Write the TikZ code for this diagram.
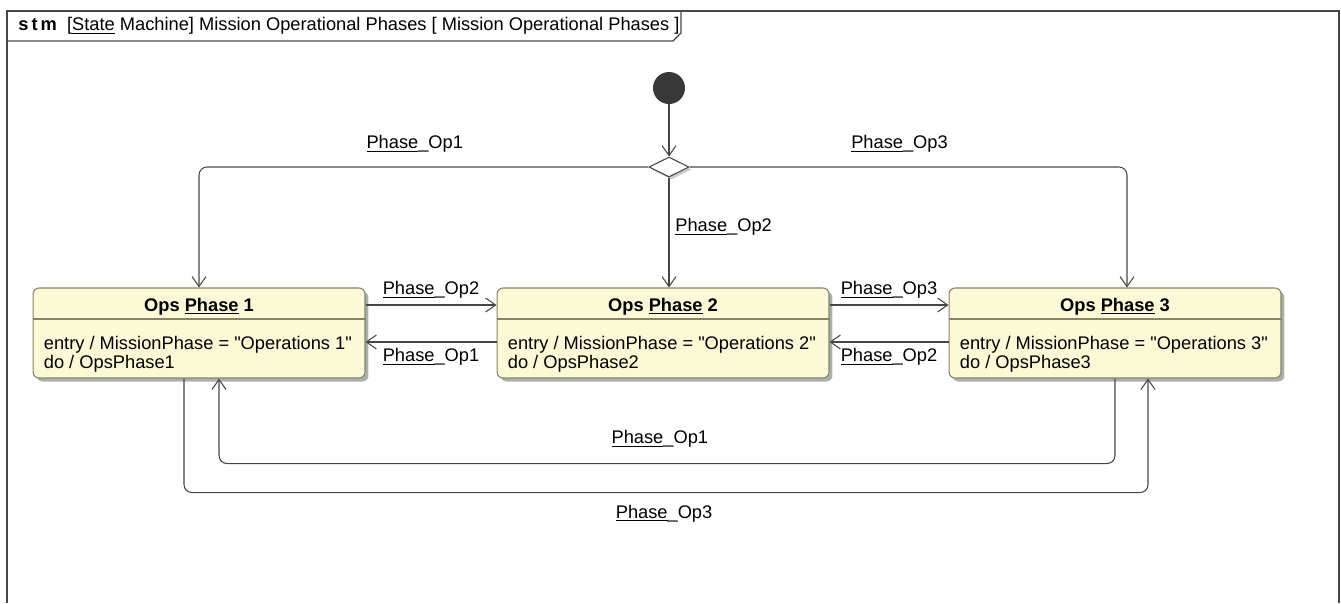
\documentclass[tikz,border=0pt]{standalone}
\usepackage{fontspec}
\setmainfont{Liberation Sans}
\usetikzlibrary{positioning,arrows.meta,shadows,shapes.geometric}

\definecolor{stateyellow}{RGB}{252,250,214}
\definecolor{stateedge}{RGB}{132,132,108}
\definecolor{linegray}{RGB}{70,70,70}

\newcommand{\phaseop}[1]{\underline{Phase}\_Op#1}
\newcommand{\opsentry}[1]{entry / MissionPhase = \textquotedbl Operations #1\textquotedbl}

\tikzset{
  frameline/.style={draw=linegray, line width=0.7pt},
  opsstate/.style={draw=stateedge, fill=stateyellow, line width=0.6pt,
    rounded corners=0.12cm, minimum width=6.64cm, minimum height=1.8cm,
    drop shadow={shadow xshift=0.07cm, shadow yshift=-0.07cm,
      fill=black!45, opacity=0.7}},
  statehead/.style={inner sep=0pt, font=\fontsize{10.4pt}{10.8pt}\selectfont\bfseries},
  statebody/.style={inner sep=0pt, align=left},
  initial/.style={circle, fill=black!78, minimum size=0.64cm, inner sep=0pt},
  choice/.style={diamond, draw=linegray, fill=white, line width=0.6pt,
    minimum width=0.8cm, minimum height=0.4cm, inner sep=0pt,
    drop shadow={shadow xshift=0.05cm, shadow yshift=-0.05cm, fill=black!40}},
  trans/.style={draw=linegray, line width=0.6pt, rounded corners=0.16cm,
    -{Straight Barb[length=0.2cm, width=0.28cm]}},
}

\begin{document}
\begin{tikzpicture}[x=0.02cm, y=-0.02cm, font=\fontsize{10.4pt}{10.8pt}\selectfont]
  \useasboundingbox (0,0) rectangle (1341,603);

  % diagram frame and its name tab
  \draw[frameline] (7,603) -- (7,11) -- (1339,11) -- (1339,603);
  \draw[frameline] (7,41) -- (673,41) -- (681,33) -- (681,11);
  \node[anchor=west, inner sep=0pt] (title) at (18,26)
    {\textbf{s\,t\,m}\ \ [\underline{State} Machine] Mission Operational Phases [ Mission Operational Phases ]};

  % pseudo states
  \node[initial] (init) at (669,88) {};
  \node[choice] (choice) at (669,167) {};

  % the three operational phases
  \node[opsstate] (s1) at (199,333) {};
  \node[opsstate] (s2) at (663,333) {};
  \node[opsstate] (s3) at (1115,333) {};

  \draw[stateedge, line width=0.6pt] ([yshift=0.28cm]s1.west) -- ([yshift=0.28cm]s1.east);
  \draw[stateedge, line width=0.6pt] ([yshift=0.28cm]s2.west) -- ([yshift=0.28cm]s2.east);
  \draw[stateedge, line width=0.6pt] ([yshift=0.28cm]s3.west) -- ([yshift=0.28cm]s3.east);

  \node[statehead, below=0.2cm of s1.north] (s1head) {Ops \underline{Phase} 1};
  \node[statehead, below=0.2cm of s2.north] (s2head) {Ops \underline{Phase} 2};
  \node[statehead, below=0.2cm of s3.north] (s3head) {Ops \underline{Phase} 3};

  \node[statebody, below right=0.96cm and 0.22cm of s1.north west] (s1body)
    {\opsentry{1}\\do / OpsPhase1};
  \node[statebody, below right=0.96cm and 0.22cm of s2.north west] (s2body)
    {\opsentry{2}\\do / OpsPhase2};
  \node[statebody, below right=0.96cm and 0.22cm of s3.north west] (s3body)
    {\opsentry{3}\\do / OpsPhase3};

  % transitions from the start
  \draw[trans] (init) -- (choice);
  \draw[trans] (choice.west) -| node[pos=0.26, above=0.16cm] {\phaseop{1}} (s1.north);
  \draw[trans] (choice.east) -| node[pos=0.24, above=0.16cm] {\phaseop{3}} ([xshift=0.24cm]s3.north);
  \draw[trans] (choice.south) -- node[pos=0.45, right] {\phaseop{2}} (choice.south |- s2.north);

  % transitions between neighbours
  \draw[trans] ([yshift=0.56cm]s1.east) -- node[above] {\phaseop{2}} ([yshift=0.56cm]s2.west);
  \draw[trans] ([yshift=-0.18cm]s2.west) -- node[below] {\phaseop{1}} ([yshift=-0.18cm]s1.east);
  \draw[trans] ([yshift=0.56cm]s2.east) -- node[above] {\phaseop{3}} ([yshift=0.56cm]s3.west);
  \draw[trans] ([yshift=-0.18cm]s3.west) -- node[below] {\phaseop{2}} ([yshift=-0.18cm]s2.east);

  % long way round below
  \draw[trans] (s3.south) -- ++(0,85)
    -| node[pos=0.254, above=0.2cm] {\phaseop{1}} ([xshift=0.4cm]s1.south);
  \draw[trans] ([xshift=-0.3cm]s1.south) -- ++(0,114)
    -| node[pos=0.249, below=0.12cm] {\phaseop{3}} ([xshift=0.66cm]s3.south);
\end{tikzpicture}
\end{document}
